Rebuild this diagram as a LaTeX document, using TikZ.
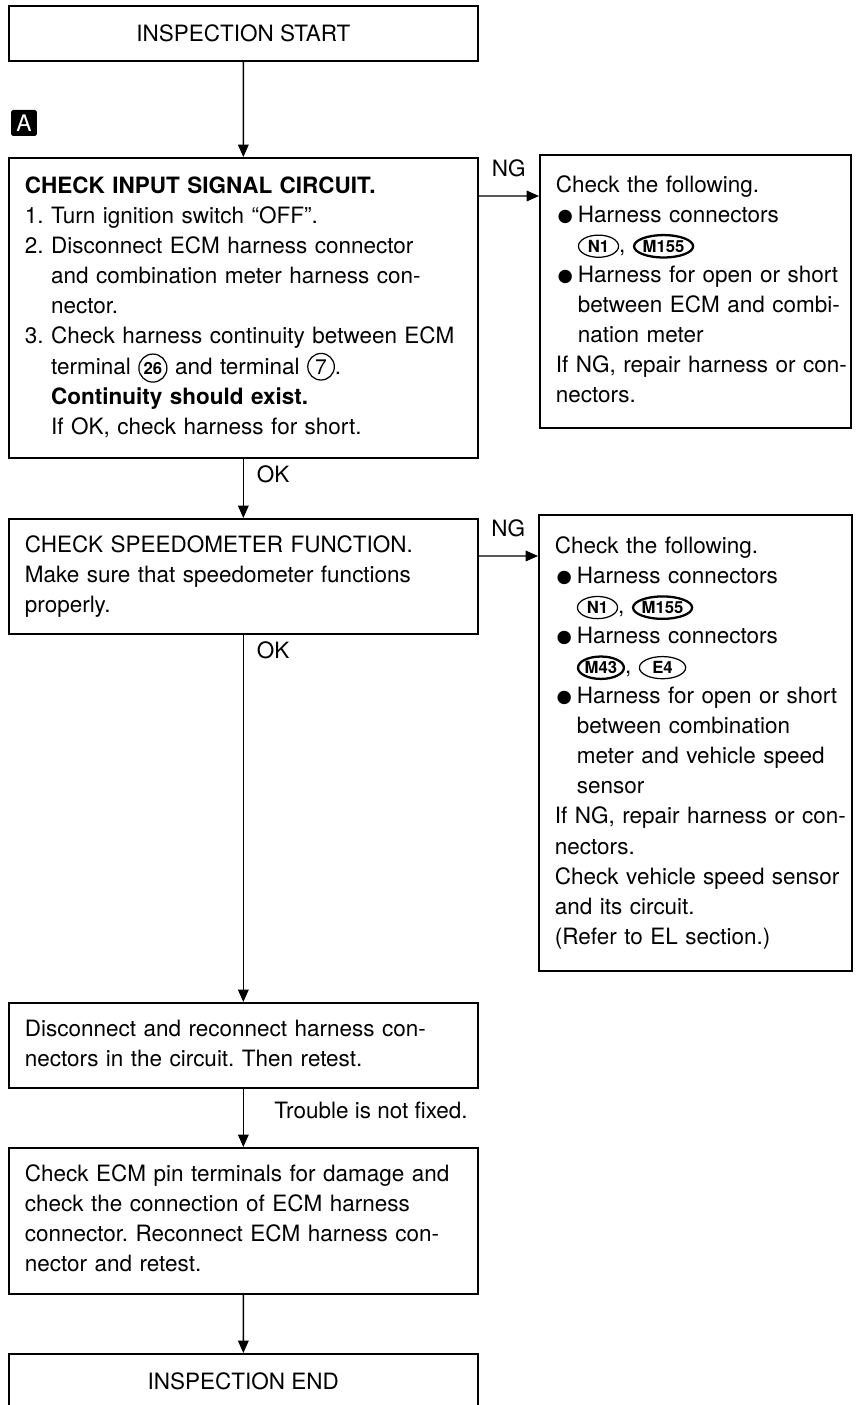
\documentclass[tikz,border=0pt]{standalone}
\usepackage{fontspec}
\setmainfont{TeX Gyre Heros}
\newfontfamily\symfont{DejaVu Sans}
\usetikzlibrary{arrows.meta, positioning, shapes.geometric}

\tikzset{
  stepbox/.style={draw, line width=1pt, rectangle, anchor=north west, align=left,
    text width=8.74cm, inner xsep=0.32cm, inner ysep=0pt},
  termbox/.style={draw, line width=1pt, rectangle, anchor=north west, align=center,
    minimum width=9.38cm, minimum height=1.1cm},
  marker/.style={fill=black, text=white, minimum size=0.52cm, rounded corners=1pt,
    inner sep=0pt, font=\fontsize{13}{13}\selectfont},
  flow/.style={line width=0.8pt, -{Triangle[length=7pt,width=6pt]}},
  oklbl/.style={pos=0, anchor=north west, xshift=4pt},
  conn/.style={draw, ellipse, text width={}, align=center, minimum size=0pt,
    inner xsep=2pt, inner ysep=1pt, line width=0.7pt,
    font=\fontsize{9.5}{9.5}\selectfont\bfseries},
}

% circled connector and terminal marks
\newcommand{\conn}[2][]{\tikz[baseline=(c.base)]\node[conn,#1](c){#2};}
\newcommand{\connb}[1]{\tikz[baseline=(c.base)]\node[conn, line width=1.3pt, inner xsep=0pt](c){#1};}
\newcommand{\cnum}[1]{\tikz[baseline=(c.base)]\node[conn, circle, inner sep=1.2pt](c){#1};}
\newcommand{\cnumb}[1]{\tikz[baseline=(c.base)]\node[conn, circle, inner sep=1.6pt, font=\fontsize{12}{12}\selectfont](c){#1};}
\newcommand{\blt}{\makebox[12.5pt][l]{\hspace{1pt}\raisebox{0.6pt}{\symfont\fontsize{10}{10}\selectfont ●}}}
\newcommand{\bltind}{\hspace*{12.5pt}}
\newcommand{\stepind}{\hphantom{2. }}

\begin{document}
\begin{tikzpicture}[x=0.02cm, y=-0.02cm, font=\fontsize{12.8}{17.1}\selectfont\frenchspacing]
  \useasboundingbox (0,0) rectangle (856,1405);
  \clip (0,0) rectangle (856,1405);

  % Main column
  \node[termbox] (start) at (8,5) {INSPECTION START};
  \node[marker] (mark) at (24,123) {A};

  \node[stepbox, minimum height=6cm] (chkin) at (8,157) {%
    \begin{tabular}{@{}l@{}}
    {\bfseries CHECK INPUT SIGNAL CIRCUIT.}\\
    1. Turn ignition switch “OFF”.\\
    2. Disconnect ECM harness connector\\
    \stepind and combination meter harness con-\\
    \stepind nector.\\
    3. Check harness continuity between ECM\\
    \stepind terminal \cnum{26} and terminal \cnumb{7}.\\
    \stepind{\bfseries Continuity should exist.}\\
    \stepind If OK, check harness for short.
    \end{tabular}};

  \node[stepbox, minimum height=2.3cm] (chkspd) at (8,518) {%
    \begin{tabular}{@{}l@{}}
    CHECK SPEEDOMETER FUNCTION.\\
    Make sure that speedometer functions\\
    properly.
    \end{tabular}};

  \node[stepbox, minimum height=1.7cm] (recon) at (8,1002) {%
    \begin{tabular}{@{}l@{}}
    Disconnect and reconnect harness con-\\
    nectors in the circuit. Then retest.
    \end{tabular}};

  \node[stepbox, minimum height=2.92cm] (chkecm) at (8,1147) {%
    \begin{tabular}{@{}l@{}}
    Check ECM pin terminals for damage and\\
    check the connection of ECM harness\\
    connector. Reconnect ECM harness con-\\
    nector and retest.
    \end{tabular}};

  \node[termbox] (finish) at (8,1353) {INSPECTION END};

  % NG branches
  \node[stepbox, text width=5.58cm, minimum height=5.46cm] (ngone) at (539,154) {%
    \begin{tabular}{@{}l@{}}
    Check the following.\\
    \blt Harness connectors\\
    \bltind\conn{N1}, \connb{M155}\\
    \blt Harness for open or short\\
    \bltind between ECM and combi-\\
    \bltind nation meter\\
    If NG, repair harness or con-\\
    nectors.
    \end{tabular}};

  \node[stepbox, text width=5.62cm, minimum height=9.12cm] (ngtwo) at (538,514) {%
    \begin{tabular}{@{}l@{}}
    Check the following.\\
    \blt Harness connectors\\
    \bltind\conn{N1}, \connb{M155}\\
    \blt Harness connectors\\
    \bltind\connb{M43}, \conn[inner xsep=3.5pt]{E4}\\
    \blt Harness for open or short\\
    \bltind between combination\\
    \bltind meter and vehicle speed\\
    \bltind sensor\\
    If NG, repair harness or con-\\
    nectors.\\
    Check vehicle speed sensor\\
    and its circuit.\\
    (Refer to EL section.)
    \end{tabular}};

  % Connectors
  \draw[flow] (start.south) -- (chkin.north);
  \draw[flow] (chkin.south) -- node[oklbl] {OK} (chkspd.north);
  \draw[flow] (chkspd.south) -- node[oklbl] {OK} (recon.north);
  \draw[flow] (recon.south) -- node[pos=0.38, right=14pt] {Trouble is not fixed.} (chkecm.north);
  \draw[flow] (chkecm.south) -- (finish.north);

  \draw[flow] ([yshift=-0.78cm]chkin.north east) -- node[midway, above=7pt] {NG} ([yshift=-0.84cm]ngone.north west);
  \draw[flow] ([yshift=-0.76cm]chkspd.north east) -- node[midway, above=7pt] {NG} ([yshift=-0.84cm]ngtwo.north west);

\end{tikzpicture}
\end{document}
